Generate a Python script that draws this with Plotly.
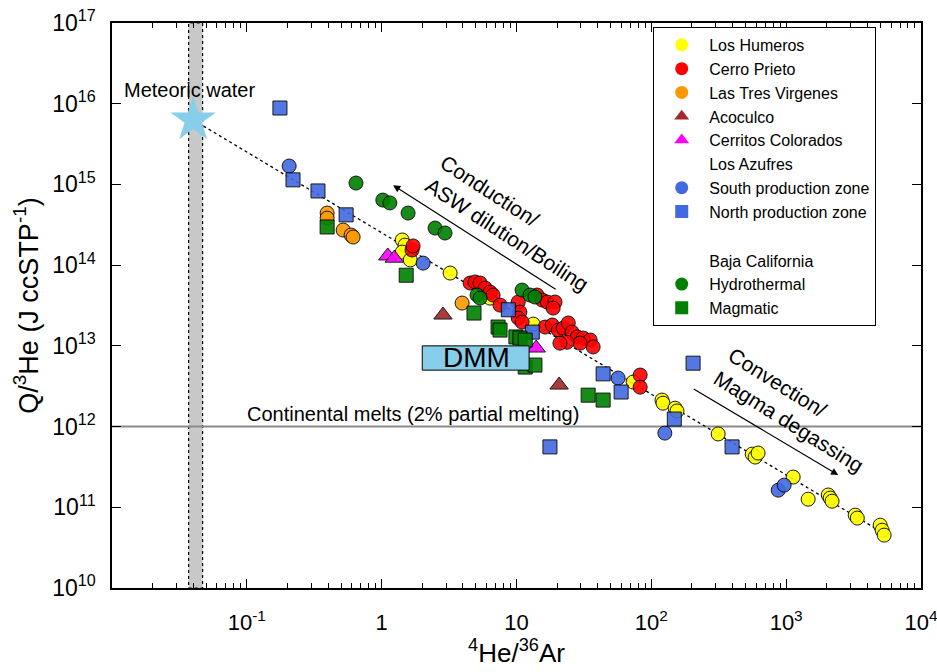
import plotly.graph_objects as go

# ---- data: 4He/36Ar (x) and Q/3He in J ccSTP^-1 (y) ----
humeros_x = [1.42, 1.49, 1.42, 1.63, 3.22, 6.37, 13.3, 73.3, 120, 122, 150, 155, 313,
             560, 589, 619, 1127, 1456, 2050, 2120, 2190, 3250, 3370, 4980, 5150, 5330]
humeros_y = [2.05e14, 1.77e14, 1.45e14, 1.16e14, 7.98e13, 3.9e13, 1.86e13, 3.56e12, 2.13e12,
             1.95e12, 1.69e12, 1.56e12, 8.1e11, 4.56e11, 4.19e11, 4.7e11, 2.37e11, 1.26e11,
             1.42e11, 1.3e11, 1.19e11, 8.0e10, 7.35e10, 6.0e10, 5.2e10, 4.52e10]

prieto_x = [1.68, 1.71, 4.53, 4.93, 5.37, 5.85, 6.37, 6.70, 7.55, 10.3, 10.6, 10.3, 11.0,
            14.2, 15.5, 16.9, 19.3, 18.7, 16.3, 18.4, 20.4, 22.2, 24.2, 25.8, 28.2, 31.2,
            35.2, 37.0, 29.6, 23.7, 21.0, 82.6, 82.6]
prieto_y = [1.54e14, 1.73e14, 6.0e13, 6.18e13, 6.0e13, 5.2e13, 4.64e13, 4.26e13, 3.2e13,
            3.49e13, 2.62e13, 2.21e13, 1.97e13, 4.26e13, 3.7e13, 3.49e13, 3.49e13, 2.94e13,
            1.71e13, 1.81e13, 1.57e13, 1.66e13, 1.92e13, 1.48e13, 1.29e13, 1.25e13, 1.18e13,
            9.7e12, 1.08e13, 1.11e13, 1.08e13, 4.35e12, 3.08e12]

virgenes_x = [0.394, 0.394, 0.518, 0.593, 0.614, 3.95]
virgenes_y = [4.42e14, 3.83e14, 2.72e14, 2.36e14, 2.23e14, 3.39e13]

acoculco_x = [2.85, 20.7]
acoculco_y = [2.41e13, 3.27e12]

cerritos_x = [1.11, 1.24, 14.0]
cerritos_y = [1.3e14, 1.22e14, 9.4e12]

azufres_south_x = [0.206, 2.03, 56.7, 126, 873, 966]
azufres_south_y = [1.69e15, 1.06e14, 3.99e12, 8.3e11, 1.63e11, 1.88e11]

azufres_north_x = [0.176, 0.220, 0.337, 0.545, 8.7, 13.1, 43.9, 59.7, 204, 148, 397, 17.7]
azufres_north_y = [8.85e15, 1.14e15, 8.3e14, 4.2e14, 2.8e13, 1.48e13, 4.5e12, 2.68e12,
                   6.1e12, 1.24e12, 5.6e11, 5.6e11]

baja_hydro_x = [0.645, 1.02, 1.15, 1.57, 2.49, 2.95, 5.1, 5.37, 11.0, 12.6, 13.7]
baja_hydro_y = [1.04e15, 6.4e14, 5.9e14, 4.42e14, 2.88e14, 2.5e14, 4.26e13, 3.91e13,
                4.91e13, 4.26e13, 4.03e13]

baja_magma_x = [0.394, 1.52, 4.84, 7.3, 7.55, 9.9, 10.6, 11.6, 11.6, 13.7, 34.0, 43.9]
baja_magma_y = [2.97e14, 7.5e13, 2.55e13, 1.71e13, 1.57e13, 1.29e13, 1.25e13, 1.18e13,
                5.46e12, 5.78e12, 2.45e12, 2.13e12]

# reference end-members and trend
meteoric_x = [0.040]
meteoric_y = [6.3e15]
trend_x = [0.040, 5500]
trend_y = [6.3e15, 4.58e10]
asw_band = [0.037, 0.047]
continental_melts = 1e12
dmm_x = [2.0, 12.4]
dmm_y = [5.0e12, 1.0e13]

x_ticks = [0.1, 1, 10, 100, 1000, 10000]
x_ticktext = ["10<sup>-1</sup>", "1", "10", "10<sup>2</sup>", "10<sup>3</sup>", "10<sup>4</sup>"]
y_ticks = [10.0 ** e for e in range(10, 18)]
y_ticktext = ["10<sup>%d</sup>" % e for e in range(10, 18)]

FONT = "Liberation Sans, Arial, Helvetica, sans-serif"

groups = [
    # name, x, y, symbol, colour, legend group
    ("Los Humeros", humeros_x, humeros_y, "circle", "#FFFF00", "a"),
    ("Cerro Prieto", prieto_x, prieto_y, "circle", "#FF0000", "a"),
    ("Las Tres Virgenes", virgenes_x, virgenes_y, "circle", "#FF9900", "a"),
    ("Acoculco", acoculco_x, acoculco_y, "triangle-up", "#A3282A", "a"),
    ("Cerritos Colorados", cerritos_x, cerritos_y, "triangle-up", "#FF00FF", "a"),
    ("Los Azufres", None, None, "circle", None, "a"),
    ("South production zone", azufres_south_x, azufres_south_y, "circle", "#4169E1", "a"),
    ("North production zone", azufres_north_x, azufres_north_y, "square", "#4169E1", "a"),
    ("Baja California", None, None, "circle", None, "b"),
    ("Hydrothermal", baja_hydro_x, baja_hydro_y, "circle", "#008000", "b"),
    ("Magmatic", baja_magma_x, baja_magma_y, "square", "#008000", "b"),
]

fig = go.Figure()

# grey ASW band with dotted edges
fig.add_vrect(x0=asw_band[0], x1=asw_band[1], fillcolor="#c8c8c8", opacity=1,
              line=dict(color="black", width=1.2, dash="dot"), layer="below")

# continental melts reference line
fig.add_hline(y=continental_melts, line=dict(color="#8a8a8a", width=2), layer="below")

# meteoric water -> magma trend
fig.add_trace(go.Scatter(x=trend_x, y=trend_y, mode="lines", showlegend=False,
                         line=dict(color="black", width=1.3, dash="dot"), hoverinfo="skip"))

# DMM box
fig.add_shape(type="rect", x0=dmm_x[0], x1=dmm_x[1], y0=dmm_y[0], y1=dmm_y[1],
              xref="x", yref="y", fillcolor="#87CEEB", line=dict(color="black", width=1))

# data points
for name, xs, ys, sym, col, grp in groups:
    if xs is None:
        continue
    size = 16 if sym == "triangle-up" else 14
    fig.add_trace(go.Scatter(
        x=xs, y=ys, mode="markers", name=name, showlegend=False,
        marker=dict(symbol=sym, size=size, color=col, opacity=0.9,
                    line=dict(color="black", width=1))))

# meteoric water star
fig.add_trace(go.Scatter(x=meteoric_x, y=meteoric_y, mode="markers", showlegend=False,
                         marker=dict(symbol="star", size=34, color="#87CEEB",
                                     line=dict(width=0))))

# legend entries (plain markers, headers without a symbol)
for name, xs, ys, sym, col, grp in groups:
    mcol = col if col is not None else "rgba(0,0,0,0)"
    fig.add_trace(go.Scatter(
        x=[None], y=[None], mode="markers", name=name, legendgroup=grp,
        marker=dict(symbol=sym, size=13, color=mcol, line=dict(width=0))))

annotations = [
    dict(x=-1.926, y=16.17, text="Meteoric water", showarrow=False, xanchor="left",
         font=dict(size=20)),
    dict(x=-1.013, y=12.155, text="Continental melts (2% partial melting)", showarrow=False,
         xanchor="left", font=dict(size=20)),
    dict(x=0.70, y=12.85, text="DMM", showarrow=False, font=dict(size=28)),
    dict(x=0.985, y=14.52, text="Conduction/<br>ASW dilution/Boiling", showarrow=False,
         align="left", textangle=33, font=dict(size=21)),
    dict(x=3.075, y=12.20, text="Convection/<br>Magma degassing", showarrow=False,
         align="left", textangle=32, font=dict(size=21)),
    dict(x=0.085, y=14.99, ax=1.301, ay=13.69, xref="x", yref="y", axref="x", ayref="y",
         text="", showarrow=True, arrowhead=2, arrowsize=1.2, arrowwidth=1.2,
         arrowcolor="black"),
    dict(x=3.386, y=11.40, ax=2.303, ay=12.477, xref="x", yref="y", axref="x", ayref="y",
         text="", showarrow=True, arrowhead=2, arrowsize=1.2, arrowwidth=1.2,
         arrowcolor="black"),
]

fig.update_layout(
    width=937, height=672,
    margin=dict(l=112, r=16, t=23, b=84),
    paper_bgcolor="white", plot_bgcolor="white",
    font=dict(family=FONT, size=17, color="black"),
    annotations=annotations,
    showlegend=True,
    legend=dict(x=0.669, y=0.993, xanchor="left", yanchor="top",
                bgcolor="white", bordercolor="black", borderwidth=1,
                font=dict(size=16), traceorder="grouped", tracegroupgap=25,
                itemwidth=45, entrywidth=205, entrywidthmode="pixels"),
    xaxis=dict(type="log", range=[-2, 4], tickvals=x_ticks, ticktext=x_ticktext,
               automargin=False, ticklabeloverflow="allow",
               ticks="inside", ticklen=9, tickwidth=1, tickcolor="black",
               minor=dict(ticks="inside", ticklen=5, tickwidth=1, tickcolor="black",
                          dtick="D1", showgrid=False),
               showline=True, linecolor="black", linewidth=1.5, mirror="ticks",
               showgrid=False, zeroline=False, tickfont=dict(size=22),
               ticklabelstandoff=14,
               title=dict(text="<sup>4</sup>He/<sup>36</sup>Ar", font=dict(size=26),
                          standoff=6)),
    yaxis=dict(type="log", range=[10, 17], tickvals=y_ticks, ticktext=y_ticktext,
               automargin=False, ticklabeloverflow="allow",
               ticks="inside", ticklen=9, tickwidth=1, tickcolor="black",
               showline=True, linecolor="black", linewidth=1.5, mirror="ticks",
               showgrid=False, zeroline=False, tickfont=dict(size=23),
               ticklabelstandoff=10,
               title=dict(text="Q/<sup>3</sup>He (J ccSTP<sup>-1</sup>)", font=dict(size=27),
                          standoff=6)),
)

fig.write_html("out.html")
